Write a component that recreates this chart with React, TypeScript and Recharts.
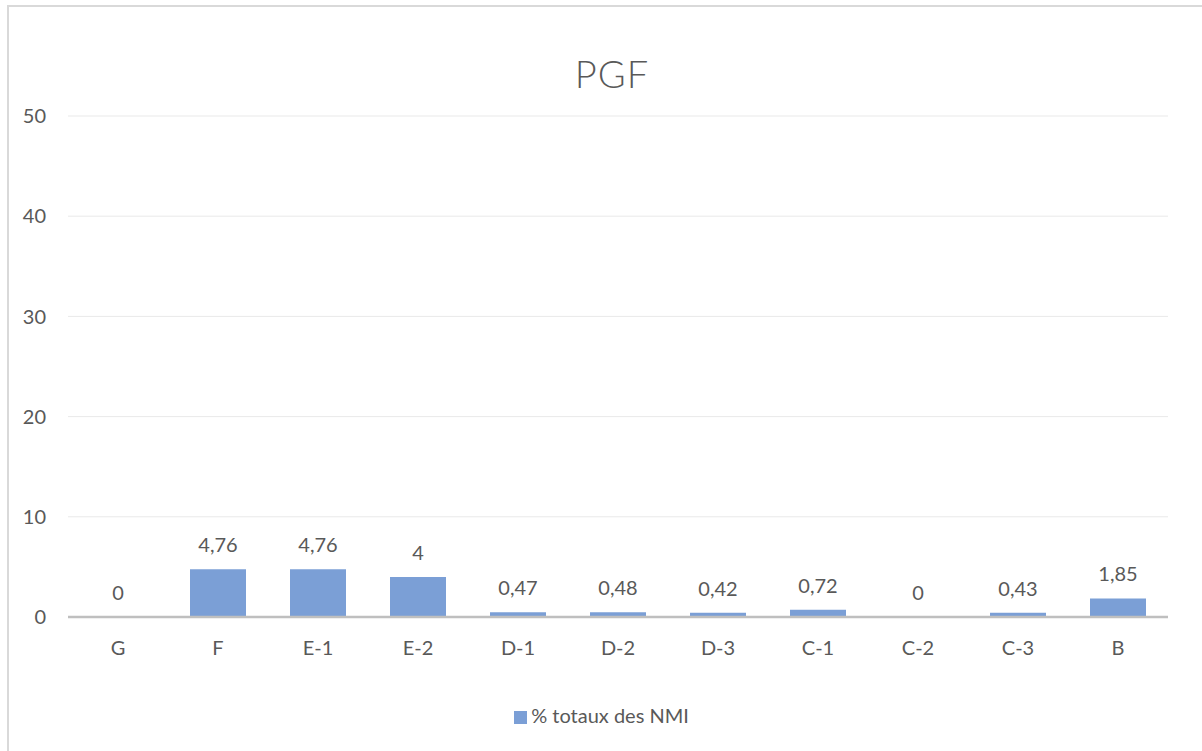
import { ComposedChart, Bar, Line, XAxis, YAxis, CartesianGrid, Legend, LabelList } from 'recharts'

const categories = ['G', 'F', 'E-1', 'E-2', 'D-1', 'D-2', 'D-3', 'C-1', 'C-2', 'C-3', 'B']
const nmiValues = [0, 4.76, 4.76, 4, 0.47, 0.48, 0.42, 0.72, 0, 0.43, 1.85]
const yTicks = [0, 10, 20, 30, 40, 50]

const seriesName = '% totaux des NMI'
const font = 'Lato, "Open Sans", sans-serif'
const textColor = '#595959'
const barColor = '#7b9fd6'

const data = categories.map((cat, i) => ({ cat, value: nmiValues[i] }))

const fmt = (v: any) => String(v).replace('.', ',')

// labels hang off an invisible line, since zero-height bars get no label
const renderLabel = (props: any) => {
  const { x, y, value } = props
  return (
    <text
      x={Number(x)}
      y={Number(y) - 17}
      textAnchor="middle"
      fill={textColor}
      fontSize={20}
      fontFamily={font}
    >
      {fmt(value)}
    </text>
  )
}

export default function App() {
  return (
    <div
      style={{
        position: 'absolute',
        left: 7,
        top: 5,
        width: 1195,
        height: 746,
        borderLeft: '2px solid #d9d9d9',
        borderTop: '2px solid #d9d9d9',
        background: '#fff',
        fontFamily: font,
      }}
    >
      <div
        style={{
          position: 'absolute',
          left: 0,
          width: 1206,
          top: 43,
          textAlign: 'center',
          fontSize: 38,
          color: textColor,
          fontWeight: 300,
          letterSpacing: 1,
        }}
      >
        PGF
      </div>
      <ComposedChart
        width={1193}
        height={744}
        data={data}
        margin={{ top: 109, right: 34, left: 0, bottom: 36 }}
        barSize={56}
        style={{ fontFamily: font }}
      >
        <CartesianGrid vertical={false} stroke="#e9e9e9" strokeWidth={1} />
        <XAxis
          dataKey="cat"
          tickLine={false}
          axisLine={{ stroke: '#bfbfbf', strokeWidth: 2.5 }}
          tick={{ fill: textColor, fontSize: 20 }}
          tickMargin={18}
          height={74}
        />
        <YAxis
          domain={[0, 50]}
          ticks={yTicks}
          width={59}
          tickLine={false}
          axisLine={false}
          tick={{ fill: textColor, fontSize: 20 }}
          tickMargin={16}
        />
        <Legend
          verticalAlign="bottom"
          iconType="square"
          iconSize={13}
          wrapperStyle={{ top: 696, left: 18, fontSize: 20, color: textColor }}
          formatter={(v: any) => <span style={{ color: textColor }}>{v}</span>}
        />
        <Bar dataKey="value" name={seriesName} fill={barColor} isAnimationActive={false} />
        <Line
          dataKey="value"
          stroke="none"
          dot={false}
          activeDot={false}
          legendType="none"
          isAnimationActive={false}
        >
          <LabelList dataKey="value" content={renderLabel} />
        </Line>
      </ComposedChart>
    </div>
  )
}
